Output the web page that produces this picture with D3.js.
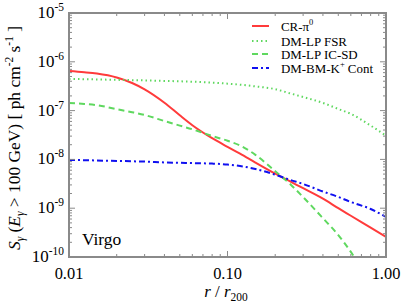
<!DOCTYPE html>
<html lang='en'>
<head>
<meta charset='utf-8'>
<title>Virgo gamma-ray surface brightness</title>
<script src='https://cdn.jsdelivr.net/npm/d3@7'></script>
<style>
  body { margin: 0; background: #fff; }
  svg text { font-family: 'Liberation Serif', 'Times New Roman', Times, serif; fill: #000; }
</style>
</head>
<body>
<script>
// radius samples, r / r200
var radius = [0.01, 0.0125, 0.015, 0.02, 0.025, 0.03, 0.04, 0.05, 0.06, 0.08, 0.1,
              0.12, 0.15, 0.2, 0.25, 0.3, 0.4, 0.5, 0.6, 0.8, 1.0];
// S_gamma(E > 100 GeV) in ph cm^-2 s^-1
var cr_pi0   = [6.47e-7, 6.12e-7, 5.75e-7, 4.77e-7, 3.68e-7, 2.73e-7, 1.45e-7, 8.0e-8, 5.02e-8, 2.72e-8, 1.81e-8,
                1.31e-8, 8.6e-9, 5.09e-9, 3.49e-9, 2.57e-9, 1.57e-9, 1.0e-9, 7.0e-10, 3.98e-10, 2.57e-10];
var lp_fsr   = [4.45e-7, 4.4e-7, 4.35e-7, 4.27e-7, 4.21e-7, 4.16e-7, 4.06e-7, 3.98e-7, 3.91e-7, 3.75e-7, 3.57e-7,
                3.4e-7, 3.13e-7, 2.75e-7, 2.24e-7, 1.9e-7, 1.44e-7, 1.08e-7, 8.55e-8, 4.93e-8, 3.06e-8];
var lp_icsd  = [1.43e-7, 1.37e-7, 1.29e-7, 1.07e-7, 9.27e-8, 8.12e-8, 6.12e-8, 4.93e-8, 4.14e-8, 3.02e-8, 2.41e-8,
                1.93e-8, 1.24e-8, 5.73e-9, 3.06e-9, 1.69e-9, 6.24e-10, 2.82e-10, 1.27e-10, 2.7e-11, 6.5e-12];
var bm_kcont = [9.72e-9, 9.65e-9, 9.49e-9, 9.31e-9, 9.14e-9, 9.01e-9, 8.68e-9, 8.51e-9, 8.39e-9, 8.2e-9, 7.86e-9,
                7.32e-9, 6.36e-9, 4.86e-9, 3.78e-9, 3.13e-9, 2.2e-9, 1.7e-9, 1.34e-9, 9.63e-10, 6.61e-10];

var x_ticks = [0.01, 0.1, 1.0];
var x_tick_labels = ['0.01', '0.10', '1.00'];
var y_ticks = [1e-10, 1e-9, 1e-8, 1e-7, 1e-6, 1e-5];
var y_exps = ['-10', '-9', '-8', '-7', '-6', '-5'];

var series = [
  {name: 'CR-π', sup: '0', values: cr_pi0, color: '#ff3b3b', dash: null, w: 2},
  {name: 'DM-LP FSR', sup: '', values: lp_fsr, color: '#5fd85f', dash: '1.5,3', w: 2},
  {name: 'DM-LP IC-SD', sup: '', values: lp_icsd, color: '#5fd85f', dash: '6,4', w: 2},
  {name: 'DM-BM-K', sup: '+', tail: ' Cont', values: bm_kcont, color: '#1010f0', dash: '6,3,2,3', w: 2}
];

var width = 407, height = 306;
var p_left = 69, p_right = 386, p_top = 13, p_bottom = 257;

var svg = d3.select('body').append('svg').attr('width', width).attr('height', height);

// the serif face that gets picked may be wider than Times; scale text so widths match
var probe = svg.append('text').attr('font-size', '13px').text('DM-LP FSR');
var k = 66 / probe.node().getComputedTextLength();
probe.remove();
if (!(k > 0.7 && k < 1.3)) k = 1;
function fs(px) { return (px * k).toFixed(2) + 'px'; }

var x_scale = d3.scaleLog().domain([0.01, 1]).range([p_left, p_right]);
var y_scale = d3.scaleLog().domain([1e-10, 1e-5]).range([p_bottom, p_top]);

svg.append('clipPath').attr('id', 'clip')
  .append('rect').attr('x', p_left).attr('y', p_top).attr('width', p_right - p_left).attr('height', p_bottom - p_top);

var line = d3.line()
  .x(function(d) { return x_scale(d[0]); })
  .y(function(d) { return y_scale(d[1]); })
  .curve(d3.curveMonotoneX);

var curves = svg.append('g').attr('clip-path', 'url(#clip)');
series.forEach(function(s) {
  curves.append('path')
    .datum(radius.map(function(r, i) { return [r, s.values[i]]; }))
    .attr('d', line)
    .attr('fill', 'none')
    .attr('stroke', s.color)
    .attr('stroke-width', s.w)
    .attr('stroke-dasharray', s.dash);
});

// frame with inward ticks on all four sides
var axis_color = '#8a8a8a';
function minor_ticks(domain) {
  var out = [];
  for (var e = Math.round(Math.log10(domain[0])); e < Math.round(Math.log10(domain[1])); e++)
    for (var m = 1; m < 10; m++) out.push(m * Math.pow(10, e));
  out.push(domain[1]);
  return out;
}
var x_all = minor_ticks([0.01, 1]);
var y_all = minor_ticks([1e-10, 1e-5]);

function is_major(v) { return Math.abs(Math.log10(v) - Math.round(Math.log10(v))) < 1e-6; }

var frame = svg.append('g').attr('stroke', axis_color).attr('stroke-width', 1);
x_all.forEach(function(v) {
  var len = is_major(v) ? 6 : 3;
  var px = x_scale(v);
  frame.append('line').attr('x1', px).attr('x2', px).attr('y1', p_bottom).attr('y2', p_bottom - len);
  frame.append('line').attr('x1', px).attr('x2', px).attr('y1', p_top).attr('y2', p_top + len);
});
y_all.forEach(function(v) {
  var len = is_major(v) ? 6 : 3;
  var py = y_scale(v);
  frame.append('line').attr('x1', p_left).attr('x2', p_left + len).attr('y1', py).attr('y2', py);
  frame.append('line').attr('x1', p_right).attr('x2', p_right - len).attr('y1', py).attr('y2', py);
});
svg.append('rect')
  .attr('x', p_left).attr('y', p_top).attr('width', p_right - p_left).attr('height', p_bottom - p_top)
  .attr('fill', 'none').attr('stroke', axis_color).attr('stroke-width', 2);

// tick labels
x_ticks.forEach(function(v, i) {
  svg.append('text').attr('x', x_scale(v)).attr('y', 279)
    .attr('text-anchor', 'middle').attr('font-size', fs(16.5)).text(x_tick_labels[i]);
});
y_ticks.forEach(function(v, i) {
  var t = svg.append('text').attr('x', 64).attr('y', y_scale(v) + 5)
    .attr('text-anchor', 'end').attr('font-size', fs(17));
  t.append('tspan').text('10');
  t.append('tspan').attr('font-size', fs(11.5)).attr('dy', -7).text(y_exps[i]);
});

// axis titles
var xl = svg.append('text').attr('x', 226).attr('y', 297).attr('text-anchor', 'middle').attr('font-size', fs(17));
xl.append('tspan').attr('font-style', 'italic').text('r');
xl.append('tspan').text(' / ');
xl.append('tspan').attr('font-style', 'italic').text('r');
xl.append('tspan').attr('font-size', fs(11.5)).attr('dy', 4).text('200');

var yl = svg.append('text')
  .attr('transform', 'translate(20,' + ((p_top + p_bottom) / 2 + 3) + ')rotate(-90)')
  .attr('text-anchor', 'middle').attr('font-size', fs(17.5));
yl.append('tspan').attr('font-style', 'italic').text('S');
yl.append('tspan').attr('font-style', 'italic').attr('font-size', fs(11.5)).attr('dy', 4).text('γ');
yl.append('tspan').attr('dy', -4).text(' (');
yl.append('tspan').attr('font-style', 'italic').text('E');
yl.append('tspan').attr('font-style', 'italic').attr('font-size', fs(11.5)).attr('dy', 4).text('γ');
yl.append('tspan').attr('dy', -4).text(' > 100 GeV) [ ph cm');
yl.append('tspan').attr('font-size', fs(11.5)).attr('dy', -7).text('-2');
yl.append('tspan').attr('dy', 7).text(' s');
yl.append('tspan').attr('font-size', fs(11.5)).attr('dy', -7).text('-1');
yl.append('tspan').attr('dy', 7).text(' ]');

svg.append('text').attr('x', 82).attr('y', 245).attr('font-size', fs(17.5)).text('Virgo');

// legend
var legend_y = [26, 41, 54, 68];
series.forEach(function(s, i) {
  var y = legend_y[i];
  svg.append('line').attr('x1', 252).attr('x2', 269).attr('y1', y).attr('y2', y)
    .attr('stroke', s.color).attr('stroke-width', s.w).attr('stroke-dasharray', s.dash);
  var t = svg.append('text').attr('x', 281).attr('y', y + 4.5).attr('font-size', fs(13));
  t.append('tspan').text(s.name);
  if (s.sup) t.append('tspan').attr('font-size', fs(8.5)).attr('dy', -6).text(s.sup);
  if (s.tail) t.append('tspan').attr('dy', 6).text(s.tail);
});
</script>
</body>
</html>
